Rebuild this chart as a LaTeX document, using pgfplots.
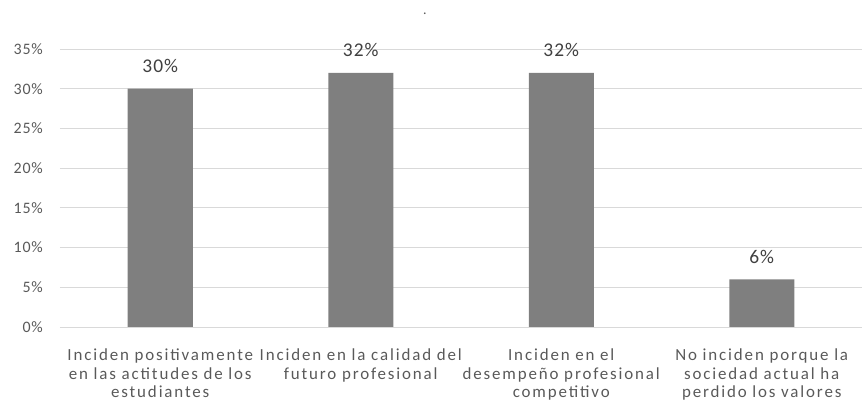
\documentclass[border=0pt]{standalone}
\usepackage{pgfplots}
\pgfplotsset{compat=1.18}
\usepackage{fontspec}
\setmainfont{Carlito}[LetterSpace=5]
\newfontfamily\catfont[LetterSpace=11]{Carlito}
\definecolor{bargray}{HTML}{7F7F7F}
\definecolor{gridgray}{HTML}{D9D9D9}
\definecolor{ticktext}{HTML}{595959}
\definecolor{labtext}{HTML}{404040}
\begin{document}
\begin{tikzpicture}
\path[use as bounding box] (-60bp,-84bp) rectangle (804bp,327bp);
\begin{axis}[
  at={(0,0)}, anchor=south west,
  scale only axis,
  width=802bp, height=278bp,
  xmin=-0.5, xmax=3.5,
  ymin=0, ymax=35,
  ytick={0,5,...,35},
  xtick={0,1,2,3},
  xticklabels={
    Inciden positivamente\\en las actitudes de los\\estudiantes,
    Inciden en la calidad del\\futuro profesional,
    Inciden en el\\desempeño profesional\\competitivo,
    No inciden porque la\\sociedad actual ha\\perdido los valores},
  yticklabel={\pgfmathprintnumber{\tick}\%},
  /pgf/number format/assume math mode=true,
  ymajorgrids,
  grid style={gridgray, line width=0.8bp},
  axis lines*=left,
  axis line style={draw=none},
  major tick length=0pt,
  ytick style={draw=none}, xtick style={draw=none},
  yticklabel style={font=\fontsize{16}{18}\selectfont, text=ticktext, anchor=east, inner sep=0pt, xshift=-17bp},
  xticklabel style={font=\catfont\fontsize{17}{18.5}\selectfont, text=ticktext, align=center, text width=205bp, anchor=north, inner sep=0pt, yshift=-22bp},
  ybar, bar width=65bp,
  nodes near coords={\pgfmathprintnumber{\pgfplotspointmeta}\%},
  nodes near coords style={font=\fontsize{19.5}{22}\selectfont, text=labtext, anchor=base, inner sep=0pt, yshift=16bp},
  clip=false,
]
\addplot[fill=bargray, draw=none] coordinates {(0,30) (1,32) (2,32) (3,6)};
\draw[gridgray, line width=0.8bp] (axis cs:-0.5,0) -- (axis cs:3.5,0);
\end{axis}
\node[text=ticktext, font=\fontsize{14}{16}\selectfont] at (365bp,313bp) {.};
\end{tikzpicture}
\end{document}
